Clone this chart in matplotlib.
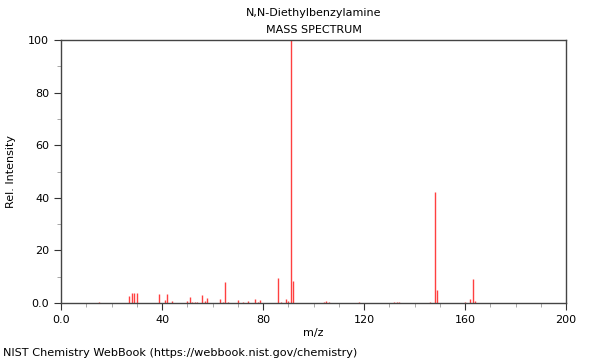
import matplotlib
matplotlib.use("Agg")
import matplotlib.pyplot as plt
from matplotlib.ticker import MultipleLocator, FixedLocator

title = "N,N-Diethylbenzylamine"
mz = [15, 27, 28, 29, 30, 39, 41, 42, 44, 50, 51, 52, 53, 54, 56, 57, 58,
      63, 64, 65, 66, 70, 72, 74, 77, 78, 79, 86, 87, 89, 90, 91, 92,
      104, 105, 106, 118, 132, 133, 134, 146, 148, 149, 160, 162, 163, 164]
intensity = [0.4, 2.8, 3.8, 3.8, 3.8, 3.3, 1.3, 3.5, 0.9, 0.8, 2.3, 0.5, 0.5, 0.4, 3.2, 0.8, 2.0,
             1.5, 0.5, 7.9, 0.5, 1.0, 0.5, 0.6, 1.6, 0.4, 1.1, 9.4, 0.5, 1.4, 0.9, 100.0, 8.2,
             0.4, 0.6, 0.3, 0.3, 0.4, 0.3, 0.2, 0.5, 42.1, 4.9, 0.2, 1.6, 9.2, 0.9]
xticks = [0, 40, 80, 120, 160, 200]
xticklabels = ["0.0", "40", "80", "120", "160", "200"]
yticks = [0, 20, 40, 60, 80, 100]
yticklabels = ["0.0", "20", "40", "60", "80", "100"]

fig = plt.figure(figsize=(6, 3.6), dpi=100)
ax = fig.add_axes([61/600, 1-303/360, 505/600, 263/360])
ax.vlines(mz, 0, intensity, colors="#ff4040", linewidth=1)
ax.set_xlim(0, 200)
ax.set_ylim(0, 100)
ax.xaxis.set_major_locator(FixedLocator(xticks))
ax.set_xticklabels(xticklabels)
ax.yaxis.set_major_locator(FixedLocator(yticks))
ax.set_yticklabels(yticklabels)
ax.xaxis.set_minor_locator(MultipleLocator(10))
ax.yaxis.set_minor_locator(MultipleLocator(10))
ax.tick_params(which="major", length=5, labelsize=8, color="#333333")
ax.tick_params(which="minor", length=3, color="#999999")
for s in ax.spines.values():
    s.set_color("#444444")
    s.set_linewidth(1)
ax.set_xlabel("m/z", fontsize=8, labelpad=2)
ax.set_ylabel("Rel. Intensity", fontsize=8, labelpad=9)
fig.text(313.5/600, 1-13/360, title, ha="center", va="center", fontsize=8)
fig.text(313.5/600, 1-30/360, "MASS SPECTRUM", ha="center", va="center", fontsize=8)
fig.text(3/600, 1-353/360, "NIST Chemistry WebBook (https://webbook.nist.gov/chemistry)",
         ha="left", va="center", fontsize=8.15)
fig.savefig("out.png", dpi=100)
